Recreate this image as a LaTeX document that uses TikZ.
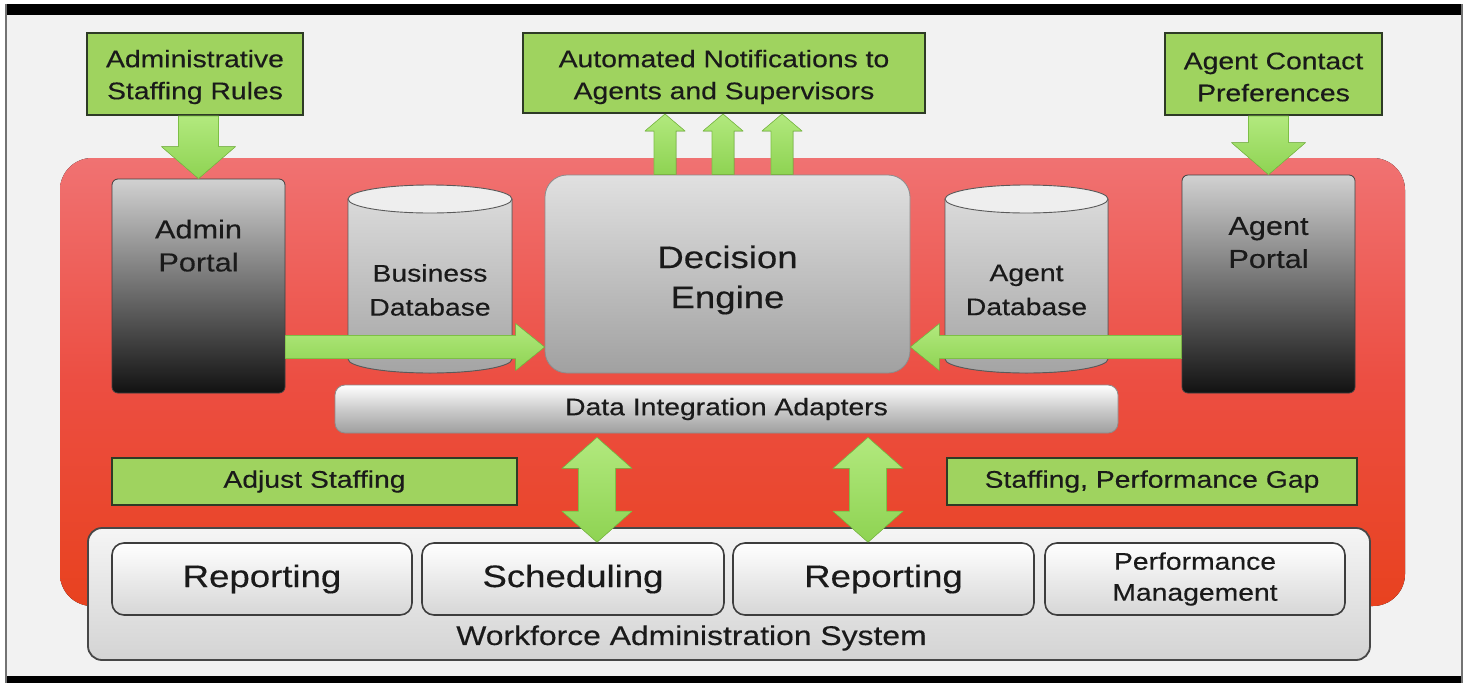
\documentclass[tikz,border=0pt]{standalone}
\usepackage{fontspec}
\setmainfont{Liberation Sans}[FakeStretch=1.18, FakeBold=0.35]
\usetikzlibrary{calc}

\definecolor{pagebg}{HTML}{F2F2F2}
\definecolor{redtop}{HTML}{F07272}
\definecolor{redmid}{HTML}{EC4E42}
\definecolor{redbot}{HTML}{E8421F}
\definecolor{gfill}{HTML}{9FD35F}
\definecolor{gline}{HTML}{2E3B26}
\definecolor{arrtop}{HTML}{B2E97E}
\definecolor{arrbot}{HTML}{8ED352}
\definecolor{arredge}{HTML}{7DBF45}
\definecolor{txt}{HTML}{1A1A1A}
\definecolor{cyltop}{HTML}{DADADA}
\definecolor{cylbot}{HTML}{A4A4A4}
\definecolor{cylcap}{HTML}{EEEEEE}
\definecolor{cyledge}{HTML}{5A5A5A}

\tikzset{
  gbox/.style={draw=gline, line width=2pt, fill=gfill, inner sep=0pt, align=center,
    text=txt, font=\fontsize{24}{32}\selectfont},
  portal/.style={rounded corners=6pt, top color=black!18, bottom color=black!93,
    draw=black!75, line width=0.8pt, inner sep=0pt},
  portaltext/.style={align=center, text=txt, font=\fontsize{26}{33}\selectfont},
  dbtext/.style={align=center, text=txt, font=\fontsize{24}{34}\selectfont},
  engine/.style={rounded corners=22pt, top color=black!12, bottom color=black!37,
    draw=black!45, line width=0.8pt, inner sep=0pt},
  enginetext/.style={align=center, text=txt, font=\fontsize{31}{40}\selectfont},
  adapters/.style={rounded corners=10pt, top color=white, bottom color=black!38,
    middle color=black!20, draw=black!45, line width=0.8pt, inner sep=0pt,
    text=txt, font=\fontsize{24}{30}\selectfont},
  wasbox/.style={rounded corners=14pt, top color=black!4, bottom color=black!17,
    draw=black!72, line width=1.8pt, inner sep=0pt},
  modbox/.style={rounded corners=12pt, top color=white, bottom color=black!16,
    draw=black!76, line width=1.6pt, inner sep=0pt, align=center, text=txt},
  garrow/.style={top color=arrtop, bottom color=arrbot, draw=arredge, line width=0.6pt,
    line join=round},
}

% block arrows: #1 start, #2 tip, #3 shaft half width, #4 head half width, #5 head length
\newcommand\fatdown[5]{\filldraw[garrow] let \p1=(#1), \p2=(#2) in
  (\x2-#3pt,\y1) -- (\x2+#3pt,\y1) -- (\x2+#3pt,\y2+#5pt) -- (\x2+#4pt,\y2+#5pt)
  -- (\x2,\y2) -- (\x2-#4pt,\y2+#5pt) -- (\x2-#3pt,\y2+#5pt) -- cycle;}
\newcommand\fatup[5]{\filldraw[garrow] let \p1=(#1), \p2=(#2) in
  (\x1-#3pt,\y1) -- (\x1+#3pt,\y1) -- (\x1+#3pt,\y2-#5pt) -- (\x1+#4pt,\y2-#5pt)
  -- (\x1,\y2) -- (\x1-#4pt,\y2-#5pt) -- (\x1-#3pt,\y2-#5pt) -- cycle;}
\newcommand\fatright[5]{\filldraw[garrow] let \p1=(#1), \p2=(#2) in
  (\x1,\y1+#3pt) -- (\x1,\y1-#3pt) -- (\x2-#5pt,\y1-#3pt) -- (\x2-#5pt,\y1-#4pt)
  -- (\x2,\y1) -- (\x2-#5pt,\y1+#4pt) -- (\x2-#5pt,\y1+#3pt) -- cycle;}
\newcommand\fatleft[5]{\filldraw[garrow] let \p1=(#1), \p2=(#2) in
  (\x1,\y1+#3pt) -- (\x1,\y1-#3pt) -- (\x2+#5pt,\y1-#3pt) -- (\x2+#5pt,\y1-#4pt)
  -- (\x2,\y1) -- (\x2+#5pt,\y1+#4pt) -- (\x2+#5pt,\y1+#3pt) -- cycle;}
\newcommand\fatboth[5]{\filldraw[garrow] let \p1=(#1), \p2=(#2) in
  (\x1,\y1) -- (\x1+#4pt,\y1-#5pt) -- (\x1+#3pt,\y1-#5pt) -- (\x1+#3pt,\y2+#5pt)
  -- (\x1+#4pt,\y2+#5pt) -- (\x1,\y2) -- (\x1-#4pt,\y2+#5pt) -- (\x1-#3pt,\y2+#5pt)
  -- (\x1-#3pt,\y1-#5pt) -- (\x1-#4pt,\y1-#5pt) -- cycle;}

% database drum: #1 centre x, #2 half width, #3 top rim y, #4 bottom rim y
\newcommand\dbdrum[4]{%
  \fill[top color=cyltop, bottom color=cylbot] (#1-#2,#3) -- (#1-#2,#4)
    arc[start angle=180, end angle=360, x radius=#2pt, y radius=14pt] -- (#1+#2,#3) -- cycle;
  \draw[cyledge, line width=0.9pt] (#1-#2,#3) -- (#1-#2,#4)
    arc[start angle=180, end angle=360, x radius=#2pt, y radius=14pt] -- (#1+#2,#3);
  \filldraw[fill=cylcap, draw=cyledge, line width=0.9pt] (#1,#3) ellipse[x radius=#2pt, y radius=14pt];}

\begin{document}
\begin{tikzpicture}[x=1pt, y=-1pt]
\useasboundingbox (0,0) rectangle (1470,683);
\fill[white] (0,0) rectangle (1470,683);
% frame
\fill[pagebg] (6,15) rectangle (1462,676);
\fill[black] (6,4) rectangle (1462,15);
\fill[black] (6,676) rectangle (1462,683);
\draw[black!55, line width=1.5pt] (6,4) -- (6,683);
\draw[black!55, line width=1.5pt] (1462,4) -- (1462,683);

% red platform
\fill[top color=redtop, bottom color=redbot, middle color=redmid, rounded corners=32pt]
  (60,158) rectangle (1405,606);

% inputs and outputs
\node[gbox, minimum width=216pt, minimum height=82pt] (asr) at (195,74) {};
\node[align=center, text=txt, font=\fontsize{24}{32}\selectfont] (asrtext) at (195,77) {Administrative\\Staffing Rules};
\node[gbox, minimum width=402pt, minimum height=80pt] (notif) at (724,73) {};
\node[align=center, text=txt, font=\fontsize{24}{32}\selectfont] (notiftext) at (724,77) {Automated Notifications to\\Agents and Supervisors};
\node[gbox, minimum width=217pt, minimum height=82pt] (acp) at (1273.5,74) {};
\node[align=center, text=txt, font=\fontsize{24}{32}\selectfont] (acptext) at (1273.5,77) {Agent Contact\\Preferences};

% portals
\node[portal, minimum width=173pt, minimum height=214pt] (admin) at (198.5,286) {};
\node[portaltext] (admintext) at ($(admin.north)+(0,67)$) {Admin\\Portal};
\node[portal, minimum width=173pt, minimum height=218pt] (agent) at (1268.5,284) {};
\node[portaltext] (agenttext) at ($(agent.north)+(0,68)$) {Agent\\Portal};

% databases
\dbdrum{430}{82}{199}{359}
\node[dbtext] (bdb) at (430,290) {Business\\Database};
\dbdrum{1026.5}{81.5}{199}{359}
\node[dbtext] (adb) at (1026.5,290) {Agent\\Database};

% decision engine and adapters
\node[engine, minimum width=365pt, minimum height=198pt] (engine) at (727.5,274) {};
\node[enginetext] (enginelabel) at (727.5,280) {Decision\\Engine};
\node[adapters, minimum width=783pt, minimum height=48pt] (dia) at (726.5,409) {Data Integration Adapters};

% feedback labels
\node[gbox, minimum width=405pt, minimum height=47pt] (adj) at (314.5,481.5) {Adjust Staffing};
\node[gbox, minimum width=410pt, minimum height=47pt] (gap) at (1152,481.5) {Staffing, Performance Gap};

% workforce administration system
\node[wasbox, minimum width=1282pt, minimum height=132pt] (was) at (729,594) {};
\node[text=txt, font=\fontsize{27}{32}\selectfont] (wastext) at (691.5,638) {Workforce Administration System};
\node[modbox, minimum width=300pt, minimum height=72pt, font=\fontsize{31}{36}\selectfont] (rep1) at (262,579) {Reporting};
\node[modbox, minimum width=302pt, minimum height=72pt, font=\fontsize{31}{36}\selectfont] (sched) at (573,579) {Scheduling};
\node[modbox, minimum width=301pt, minimum height=72pt, font=\fontsize{31}{36}\selectfont] (rep2) at (883.5,579) {Reporting};
\node[modbox, minimum width=300pt, minimum height=72pt, font=\fontsize{24}{31}\selectfont] (perf) at (1195,579) {Performance\\Management};

% flows
\fatdown{asr.south}{admin.north}{20}{37}{32}
\fatdown{acp.south}{agent.north}{20}{37}{32}
\fatup{$(engine.north)+(-62.5,0)$}{notif.south}{11}{20}{17}
\fatup{$(engine.north)+(-4.5,0)$}{notif.south}{11}{20}{17}
\fatup{$(engine.north)+(54.5,0)$}{notif.south}{11}{20}{17}
\fatright{$(admin.east)+(0,61)$}{engine.west}{11.5}{23.5}{29}
\fatleft{$(agent.west)+(0,63)$}{engine.east}{11.5}{23.5}{29}
\fatboth{$(dia.south)+(-129.5,4)$}{sched.north}{18.5}{35}{31}
\fatboth{$(dia.south)+(141.5,4)$}{rep2.north}{18.5}{35}{31}
\end{tikzpicture}
\end{document}
